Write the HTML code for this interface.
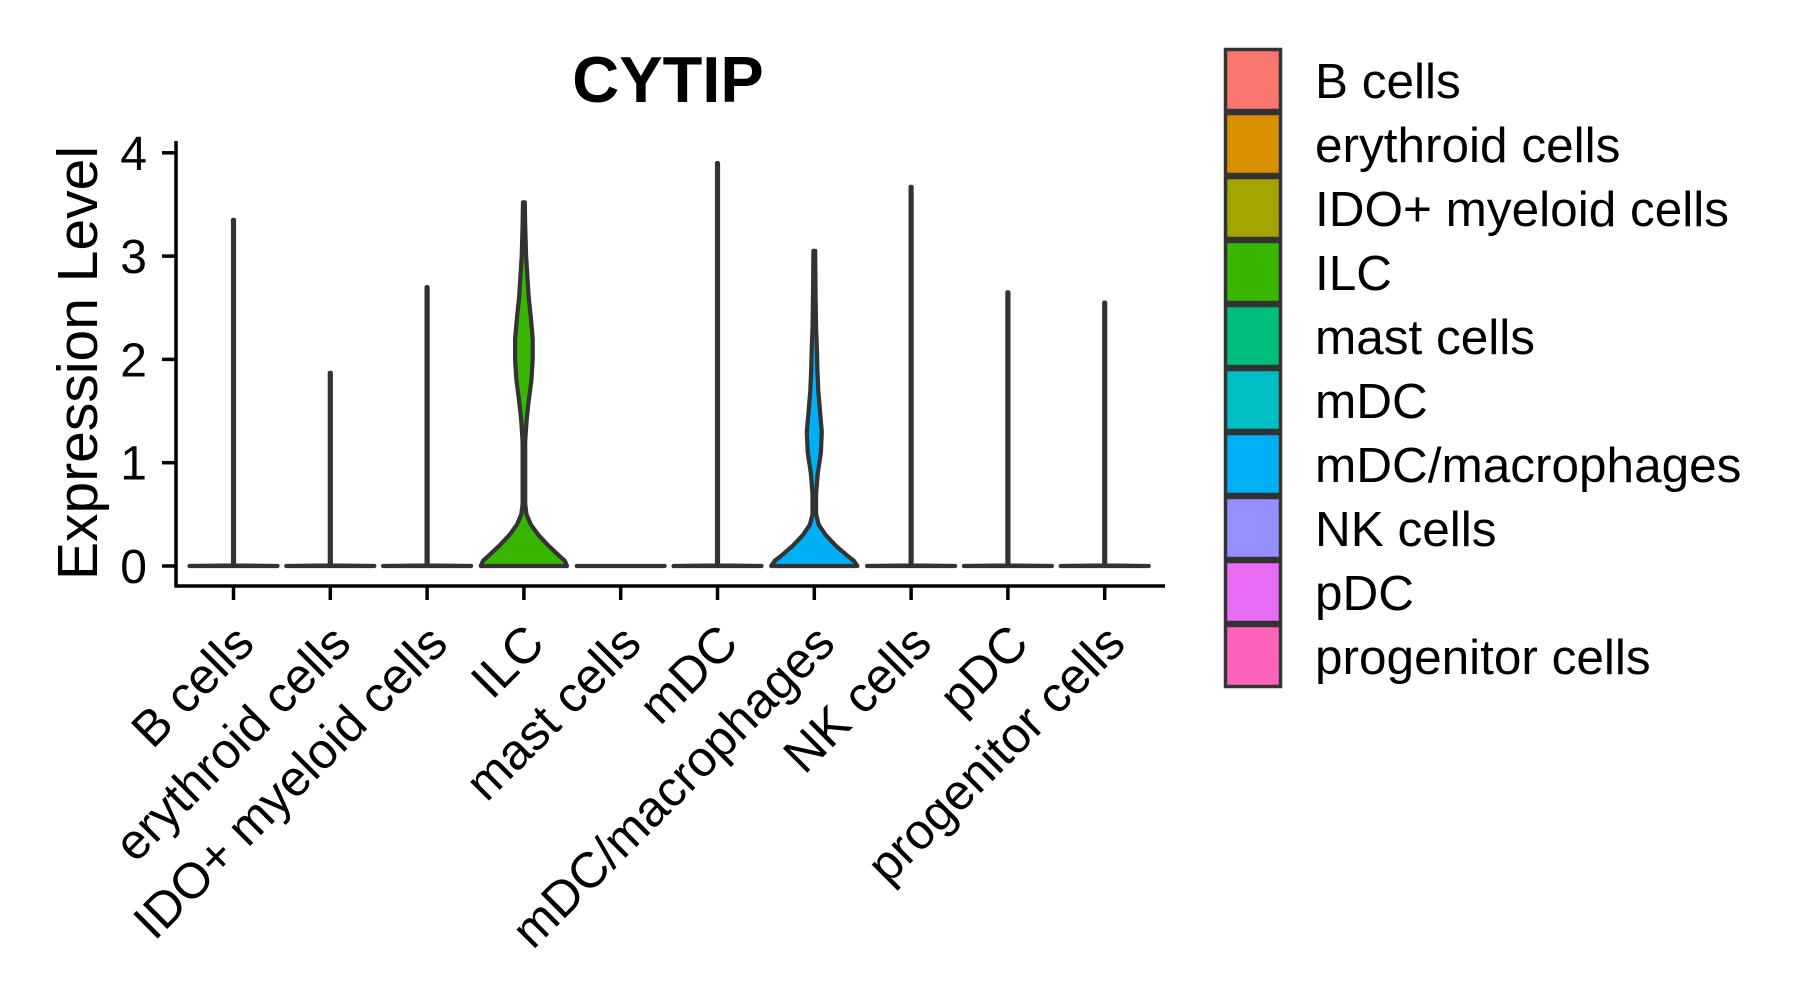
<!DOCTYPE html>
<html><head><meta charset="utf-8"><style>
body{margin:0;background:#fff}
svg{display:block}
text{font-family:"Liberation Sans",Arial,sans-serif;fill:#000}
</style></head><body>
<svg id="chart" width="1795" height="1002" viewBox="0 0 1795 1002">
<text x="668" y="102" font-size="65" font-weight="bold" text-anchor="middle">CYTIP</text>
<text transform="translate(97,363) rotate(-90)" font-size="57" text-anchor="middle">Expression Level</text>
<g id="violins"></g>
<g id="axes"></g>
<g id="legend"></g>
</svg>
<script>
const categories=["B cells","erythroid cells","IDO+ myeloid cells","ILC","mast cells","mDC","mDC/macrophages","NK cells","pDC","progenitor cells"];
const colors=["#F8766D","#D89000","#A3A500","#39B600","#00BF7D","#00BFC4","#00B0F6","#9590FF","#E76BF3","#FF62BC"];
const maxValues=[3.35,1.87,2.7,3.52,0,3.9,3.05,3.67,2.65,2.55];
const yTicks=[0,1,2,3,4];
// density profiles: [value, relative half-width]
const ilcProfile=[[0,0.98],[0.05,0.93],[0.1,0.8],[0.2,0.55],[0.3,0.33],[0.4,0.16],[0.5,0.06],[0.6,0.03],[1.2,0.03],[1.4,0.06],[1.6,0.11],[1.8,0.17],[2.0,0.2],[2.2,0.2],[2.4,0.16],[2.6,0.11],[2.8,0.08],[3.0,0.05],[3.3,0.03],[3.52,0.02]];
const macroProfile=[[0,0.98],[0.05,0.9],[0.1,0.75],[0.2,0.48],[0.3,0.26],[0.4,0.1],[0.5,0.04],[0.7,0.04],[0.9,0.08],[1.1,0.15],[1.3,0.17],[1.5,0.13],[1.7,0.09],[1.9,0.07],[2.1,0.06],[2.3,0.04],[2.6,0.03],[3.05,0.02]];

const NS="http://www.w3.org/2000/svg";
const x0=233.5, step=96.8, y0=566, yUnit=103.3, halfW=44;
function xPos(i){return x0+i*step;}
function yPos(v){return y0-v*yUnit;}
function profileFor(i){
  if(categories[i]==="ILC")return ilcProfile;
  if(categories[i]==="mDC/macrophages")return macroProfile;
  if(maxValues[i]<=0)return [[0,1],[0,1]];
  return [[0,1],[0.005,0.012],[maxValues[i],0.012]];
}
const vg=document.getElementById('violins');
categories.forEach((c,i)=>{
  const p=profileFor(i), cx=xPos(i);
  const right=p.map(d=>(cx+d[1]*halfW).toFixed(1)+","+yPos(d[0]).toFixed(1));
  const left=p.slice().reverse().map(d=>(cx-d[1]*halfW).toFixed(1)+","+yPos(d[0]).toFixed(1));
  const poly=document.createElementNS(NS,'polygon');
  poly.setAttribute('points',right.concat(left).join(' '));
  poly.setAttribute('fill',colors[i]);
  poly.setAttribute('stroke','#333');
  poly.setAttribute('stroke-width','4.2');
  poly.setAttribute('stroke-linejoin','round');
  
  
  vg.appendChild(poly);
});
const ag=document.getElementById('axes');
function line(x1,y1,x2,y2,w,name){
  const l=document.createElementNS(NS,'line');
  l.setAttribute('x1',x1);l.setAttribute('y1',y1);l.setAttribute('x2',x2);l.setAttribute('y2',y2);
  l.setAttribute('stroke','#000');l.setAttribute('stroke-width',w);
  
  
  ag.appendChild(l);
}
line(176,141,176,587,3.5,'y-axis-line');
line(174.5,586,1165,586,3.5,'x-axis-line');
yTicks.forEach(t=>{
  line(162,yPos(t),176,yPos(t),3.5,'y-tick');
  const tx=document.createElementNS(NS,'text');
  tx.setAttribute('x',147);tx.setAttribute('y',yPos(t)+17);
  tx.setAttribute('font-size','48');tx.setAttribute('text-anchor','end');
  tx.textContent=t;
  
  
  ag.appendChild(tx);
});
categories.forEach((c,i)=>{
  line(xPos(i),586,xPos(i),600,3.5,'x-tick');
  const tx=document.createElementNS(NS,'text');
  const ax=xPos(i)+23, ay=646;
  tx.setAttribute('transform','translate('+ax+','+ay+') rotate(-45)');
  tx.setAttribute('font-size','50');tx.setAttribute('text-anchor','end');
  tx.textContent=c;
  
  
  ag.appendChild(tx);
});
const lg=document.getElementById('legend');
categories.forEach((c,i)=>{
  const top=48+i*64;
  const r=document.createElementNS(NS,'rect');
  r.setAttribute('x',1225.5);r.setAttribute('y',top+1.5);r.setAttribute('width',55);r.setAttribute('height',61);
  r.setAttribute('fill',colors[i]);r.setAttribute('stroke','#333');r.setAttribute('stroke-width','3.5');
  
  
  lg.appendChild(r);
  const tx=document.createElementNS(NS,'text');
  tx.setAttribute('x',1315);tx.setAttribute('y',top+50);
  tx.setAttribute('font-size','49.5');
  tx.textContent=c;
  
  
  lg.appendChild(tx);
});
</script>
</body></html>
